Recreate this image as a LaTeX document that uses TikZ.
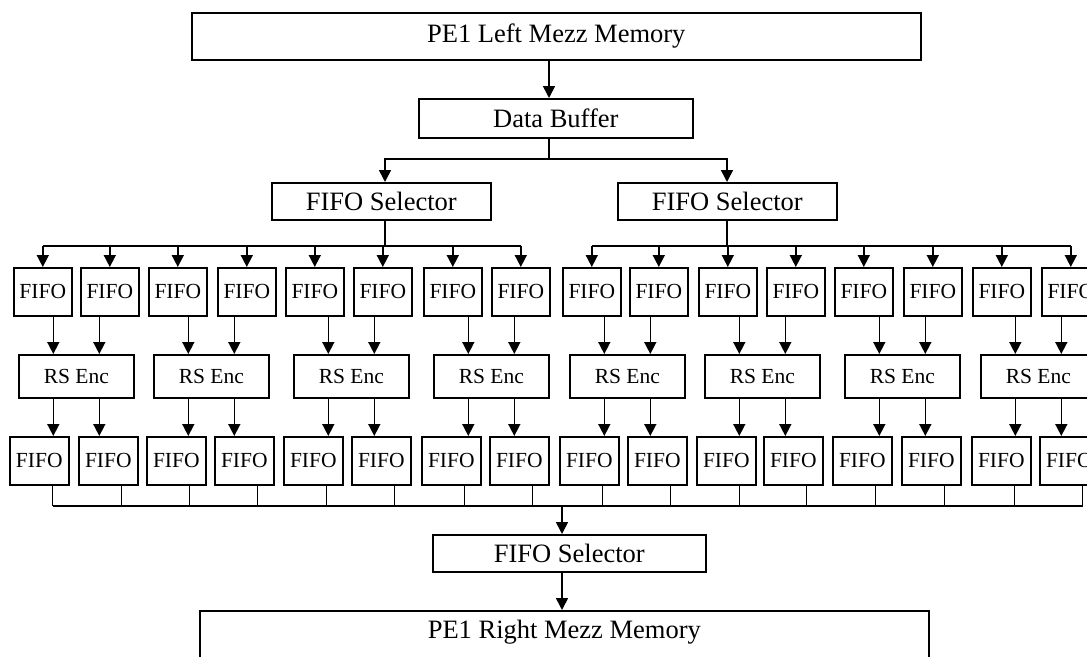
\documentclass[tikz,border=0pt]{standalone}
\usepackage{fontspec}
\setmainfont{Liberation Serif}
\usetikzlibrary{arrows.meta}
\begin{document}
\begin{tikzpicture}[x=1pt,y=-1pt,
  box/.style={draw,line width=1.6pt,inner sep=0pt,anchor=north west},
  big/.style={box,font=\fontsize{26.5}{30}\selectfont},
  small/.style={box,font=\fontsize{21.5}{24}\selectfont},
  wire/.style={line width=1.6pt},
  stub/.style={line width=1.3pt},
  arr/.style={wire,-{Triangle[width=12pt,length=12pt]}}]
\path[use as bounding box] (0,0) rectangle (1087,656);
\clip (0,0) rectangle (1087,656);

% source memory, buffer and the two input selectors
\node[big,minimum width=729pt,minimum height=47pt] (lmem) at (191,12) {PE1 Left Mezz Memory};
\node[big,minimum width=274pt,minimum height=39pt] (db) at (418,98) {Data Buffer};
\node[big,minimum width=219pt,minimum height=37pt] (selL) at (271,182) {FIFO Selector};
\node[big,minimum width=219pt,minimum height=37pt] (selR) at (617,182) {FIFO Selector};

% input FIFOs
\foreach \x [count=\i] in {13,80,148,217,285,353,423,491,562,629,698,766,834,903,972,1041}
  \node[small,minimum width=58pt,minimum height=48pt] (u\i) at (\x,267) {FIFO};
% encoders
\foreach \x [count=\i] in {18,153,293,433,569,704,844,980}
  \node[small,minimum width=115pt,minimum height=43pt] (rs\i) at (\x,354) {RS Enc};
% output FIFOs
\foreach \x [count=\i] in {9,78,146,214,283,351,421,489,559,627,696,763,832,901,971,1039}
  \node[small,minimum width=59pt,minimum height=48pt] (l\i) at (\x,436) {FIFO};

% output selector and destination memory
\node[big,minimum width=273pt,minimum height=37pt] (selB) at (432,534) {FIFO Selector};
\node[big,anchor=north west,minimum width=729pt,text height=28pt,text depth=32pt] (rmem) at (199,610) {PE1 Right Mezz Memory};

% tap and bus positions
\coordinate (tap) at (549,0);
\coordinate (brL) at (385,159);
\coordinate (brR) at (727,159);
\coordinate (busL) at (0,246);
\coordinate (busB) at (0,506);
\coordinate (tapB) at (562,0);

% memory -> buffer -> selectors
\draw[arr] (lmem.south -| tap) -- (db.north -| tap);
\draw[arr] (db.south -| tap) |- (brL) -- (selL.north -| brL);
\draw[arr] (db.south -| tap) |- (brR) -- (selR.north -| brR);

% selectors -> input FIFOs
\draw[wire] (selL.south -| brL) -- (brL |- busL);
\draw[wire] (selR.south -| brR) -- (brR |- busL);
\draw[wire] (u1.north |- busL) -- (u8.north |- busL);
\draw[wire] (u9.north |- busL) -- (u16.north |- busL);
\foreach \i in {1,...,16}
  \draw[arr] (u\i.north |- busL) -- (u\i.north);

% input FIFOs -> encoders -> output FIFOs
\foreach \k [evaluate=\k as \a using int(2*\k-1), evaluate=\k as \b using int(2*\k)] in {1,...,8} {
  \coordinate (pa) at ([xshift=-23pt]rs\k.north);
  \coordinate (pb) at ([xshift=23pt]rs\k.north);
  \draw[arr] (u\a.south -| pa) -- (pa);
  \draw[arr] (u\b.south -| pb) -- (pb);
  \draw[arr] (rs\k.south -| pa) -- (l\a.north -| pa);
  \draw[arr] (rs\k.south -| pb) -- (l\b.north -| pb);
}

% output FIFOs -> collecting bus
\foreach \i in {1,...,16} {
  \coordinate (s\i) at ([xshift=13.5pt]l\i.south);
  \draw[stub] (s\i) -- (s\i |- busB);
}
\draw[wire] (s1 |- busB) -- (s16 |- busB);

% bus -> output selector -> destination memory
\draw[arr] (tapB |- busB) -- (selB.north -| tapB);
\draw[arr] (selB.south -| tapB) -- (rmem.north -| tapB);
\end{tikzpicture}
\end{document}
